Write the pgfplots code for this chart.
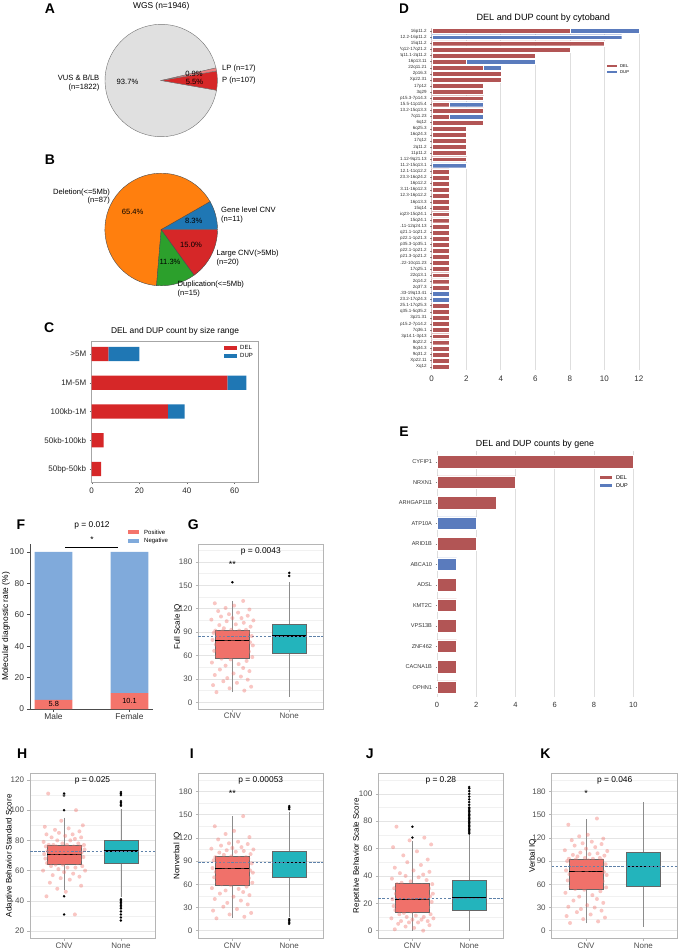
\documentclass[border=0pt]{standalone}
\usepackage{fontspec}
\setmainfont{Liberation Sans}
\usepackage{pgfplots}
\usepackage{pgfplotstable}
\pgfplotsset{compat=1.18}
\usepgfplotslibrary{statistics}

\newcommand\fs[1]{\fontsize{#1bp}{#1bp}\selectfont}

\definecolor{vusgray}{HTML}{E0E0E0}
\definecolor{lppink}{HTML}{EF8080}
\definecolor{tabred}{HTML}{D62728}
\definecolor{tabblue}{HTML}{1F77B4}
\definecolor{taborange}{HTML}{FF7F0E}
\definecolor{tabgreen}{HTML}{2CA02C}
\definecolor{delred}{HTML}{B25555}
\definecolor{dupblue}{HTML}{5A7BBD}
\definecolor{posred}{HTML}{F4746B}
\definecolor{negblue}{HTML}{80AADB}
\definecolor{cnvfill}{HTML}{F0716A}
\definecolor{nonefill}{HTML}{23B4BC}
\definecolor{refline}{HTML}{5F82AA}
\definecolor{panelframe}{HTML}{B5B5B5}
\definecolor{gridmaj}{HTML}{E4E4E4}
\definecolor{gridmin}{HTML}{F1F1F1}
\definecolor{ticktxt}{HTML}{4D4D4D}
\definecolor{sbgrid}{HTML}{DEDEDE}

% CNV counts by size range (DEL / DUP)
\pgfplotstableread{
idx del dup
0 7 13
1 57 8
2 32 7
3 5 0
4 4 0
}\sizerange

% CNV counts by cytoband, top to bottom
\pgfplotstableread{
idx del dup
0 8 4
1 0 11
2 10 0
3 8 0
4 6 0
5 2 4
6 3 1
7 4 0
8 4 0
9 3 0
10 3 0
11 3 0
12 1 2
13 3 0
14 1 2
15 3 0
16 2 0
17 2 0
18 2 0
19 2 0
20 2 0
21 2 0
22 0 2
23 1 0
24 1 0
25 1 0
26 1 0
27 1 0
28 1 0
29 1 0
30 1 0
31 1 0
32 1 0
33 1 0
34 1 0
35 1 0
36 1 0
37 1 0
38 1 0
39 1 0
40 1 0
41 1 0
42 1 0
43 0 1
44 0 1
45 1 0
46 1 0
47 1 0
48 1 0
49 1 0
50 1 0
51 1 0
52 1 0
53 1 0
54 1 0
55 1 0
}\cytoband

% CNV counts by gene
\pgfplotstableread{
idx del dup
0 10 0
1 4 0
2 3 0
3 0 2
4 2 0
5 0 1
6 1 0
7 1 0
8 1 0
9 1 0
10 1 0
11 1 0
}\genecounts

% molecular diagnostic rate by sex (%)
\pgfplotstableread{
idx pos neg
1 5.8 94.2
2 10.1 89.9
}\diagrate

% individual scores of CNV carriers (jittered x position)
\pgfplotstableread{
jx fsiq abs nviq rbs viq
0.72 13 111 16 76 10
1.21 15 100 18 68 12
0.95 18 93 21 66 15
1.33 20 90 23 63 17
0.66 22 89 26 61 19
1.08 25 88 28 58 21
0.84 27 87 31 55 24
1.27 29 86 34 52 26
0.91 31 85 36 50 28
1.15 33 84 39 48 30
0.69 35 84 41 46 31
1.02 37 83 44 44 33
1.30 40 82 46 43 36
0.78 42 82 48 42 39
1.19 44 81 50 41 41
0.88 47 80 52 40 44
1.11 49 80 54 39 46
0.64 51 79 55 38 49
1.25 53 78 57 37 51
0.97 55 78 59 36 53
0.81 56 77 60 35 54
1.35 58 77 62 34 56
0.73 59 77 63 34 57
1.05 61 77 64 33 59
1.17 62 76 66 33 61
0.86 64 76 67 32 62
1.29 65 76 68 31 64
0.68 66 76 69 31 65
0.99 68 75 70 30 66
1.13 69 75 71 30 68
0.76 70 75 72 29 69
1.23 71 74 73 28 70
0.93 72 74 74 28 71
1.36 73 74 75 27 72
0.71 74 73 76 27 73
1.09 75 73 77 26 74
0.83 76 73 78 25 75
1.31 77 72 78 25 76
0.89 78 72 79 24 76
1.01 79 72 80 24 77
0.65 80 71 81 23 78
1.18 81 71 82 23 79
0.96 82 71 83 23 80
1.26 82 71 84 22 81
0.79 83 70 85 22 82
1.07 84 70 86 22 84
0.87 85 70 87 21 85
1.34 85 69 87 21 86
0.74 86 69 88 20 87
1.14 87 69 89 20 88
0.92 88 68 90 19 89
1.22 88 68 90 19 89
0.67 89 68 91 18 90
1.04 90 67 92 18 91
1.28 90 67 93 17 91
0.82 91 66 93 17 92
1.12 92 66 94 16 93
0.70 92 65 95 15 93
1.24 93 65 95 15 94
0.98 93 64 96 14 94
0.85 95 64 98 13 96
1.32 97 63 99 12 97
0.77 99 63 101 12 98
1.06 100 62 102 11 99
1.20 102 62 103 10 100
0.90 104 61 104 10 101
1.37 105 60 105 9 103
0.63 106 60 106 9 104
1.00 108 59 107 8 106
1.16 108 58 108 8 108
0.80 110 57 110 7 110
1.27 111 56 112 7 112
0.94 113 55 113 6 113
1.10 115 54 115 6 115
0.75 117 52 118 5 117
1.30 119 50 121 4 119
0.88 121 48 125 3 122
1.03 124 46 129 2 124
0.69 127 43 135 1 137
1.19 130 31 148 0 145
}\cnvscores

\pgfplotsset{
  sbbars/.style={
    scale only axis, xbar stacked, y dir=reverse,
    axis line style={draw=none},
    xmajorgrids, major grid style={sbgrid, line width=0.6bp},
    tick label style={text=black!80},
    /pgf/number format/assume math mode=true,
    xtick style={draw=none},
    ytick style={draw=black!50, line width=0.3bp},
    ytick pos=left,
    major tick length=1.5bp, tick align=outside,
  },
  iqpanel/.style={
    scale only axis, width=125bp, height=165bp,
    xmin=0.4, xmax=2.6, xtick={1,2}, xticklabels={CNV,None},
    axis line style={panelframe, line width=0.8bp},
    tick style={panelframe, line width=0.5bp},
    tick align=outside, major tick length=2.5bp, minor tick length=0pt,
    xtick pos=bottom, ytick pos=left,
    ymajorgrids, yminorgrids,
    major grid style={gridmaj, line width=0.6bp},
    minor grid style={gridmin, line width=0.4bp},
    tick label style={font=\fs{8}, text=ticktxt},
    xticklabel style={yshift=1.8bp},
    /pgf/number format/assume math mode=true,
    boxplot/draw direction=y,
    clip=false,
  },
  cnvbox/.style={fill=cnvfill, draw=black!60, line width=0.5bp,
    boxplot/every median/.style={black, line width=1.2bp},
    boxplot/every whisker/.style={black!45, line width=0.5bp}},
  nonebox/.style={fill=nonefill, draw=black!60, line width=0.5bp,
    boxplot/every median/.style={black, line width=1.2bp},
    boxplot/every whisker/.style={black!45, line width=0.5bp}},
  cnvdots/.style={only marks, mark=*, mark size=2bp, color=cnvfill,
    mark options={solid, fill=cnvfill, draw=cnvfill, draw opacity=0, fill opacity=0.4}},
  outdots/.style={only marks, mark=*, mark size=1.2bp, color=black,
    mark options={solid, fill=black, draw=black, line width=0.1bp}},
  refl/.style={refline, line width=0.6bp, dash pattern=on 2.5bp off 1.6bp},
}

\begin{document}
\begin{tikzpicture}
\useasboundingbox (0,0) rectangle (680bp,-948bp);

% ---------- A: WGS pie ----------
\pgfmathsetmacro\wgsTot{1822+17+107}
\pgfmathsetmacro\aP{-10}
\pgfmathsetmacro\aLP{\aP+107/\wgsTot*360}
\pgfmathsetmacro\aVUS{\aLP+17/\wgsTot*360}
\pgfmathsetmacro\aEnd{\aP+360}
\begin{axis}[at={(161.2bp,-80.5bp)}, anchor=center, x=56.2bp, y=56.2bp,
  hide axis, xmin=-1, xmax=1, ymin=-1, ymax=1, clip=false]
  \fill[vusgray, draw=black!55, line width=0.4bp] (axis cs:0,0) -- ++(\aVUS:56.2bp)
    arc[start angle=\aVUS, end angle=\aEnd, radius=56.2bp] -- cycle;
  \fill[tabred, draw=black!55, line width=0.4bp] (axis cs:0,0) -- ++(\aP:56.2bp)
    arc[start angle=\aP, end angle=\aLP, radius=56.2bp] -- cycle;
  \fill[lppink, draw=black!55, line width=0.4bp] (axis cs:0,0) -- ++(\aLP:56.2bp)
    arc[start angle=\aLP, end angle=\aVUS, radius=56.2bp] -- cycle;
\end{axis}
\node[font=\fs{8.4}] at (161.2bp,-6bp) {WGS (n=1946)};
\node[font=\fs{7.6}] at (127.5bp,-81.5bp) {93.7\%};
\node[font=\fs{7.6}] at (194.5bp,-81.5bp) {5.5\%};
\node[font=\fs{7.6}] at (194bp,-74bp) {0.9\%};
\node[font=\fs{7.6}, anchor=west, inner sep=0pt] at (222bp,-69bp) {LP (n=17)};
\node[font=\fs{7.6}, anchor=west, inner sep=0pt] at (222bp,-81bp) {P (n=107)};
\node[font=\fontsize{7.6bp}{8.6bp}\selectfont, anchor=east, align=right, inner sep=0pt]
  at (99.5bp,-83bp) {VUS \& B/LB\\(n=1822)};

% ---------- B: CNV type pie ----------
\pgfmathsetmacro\cnvTot{11+87+15+20}
\pgfmathsetmacro\bDel{11/\cnvTot*360}
\pgfmathsetmacro\bDup{\bDel+87/\cnvTot*360}
\pgfmathsetmacro\bLarge{\bDup+15/\cnvTot*360}
\begin{axis}[at={(161.2bp,-229.5bp)}, anchor=center, x=56.3bp, y=56.3bp,
  hide axis, xmin=-1, xmax=1, ymin=-1, ymax=1, clip=false]
  \fill[tabblue, draw=black!70, line width=0.4bp] (axis cs:0,0) -- ++(0:56.3bp)
    arc[start angle=0, end angle=\bDel, radius=56.3bp] -- cycle;
  \fill[taborange, draw=black!70, line width=0.4bp] (axis cs:0,0) -- ++(\bDel:56.3bp)
    arc[start angle=\bDel, end angle=\bDup, radius=56.3bp] -- cycle;
  \fill[tabgreen, draw=black!70, line width=0.4bp] (axis cs:0,0) -- ++(\bDup:56.3bp)
    arc[start angle=\bDup, end angle=\bLarge, radius=56.3bp] -- cycle;
  \fill[tabred, draw=black!70, line width=0.4bp] (axis cs:0,0) -- ++(\bLarge:56.3bp)
    arc[start angle=\bLarge, end angle=360, radius=56.3bp] -- cycle;
\end{axis}
\node[font=\fs{7.6}] at (132.6bp,-211.4bp) {65.4\%};
\node[font=\fs{7.6}] at (193.8bp,-220.8bp) {8.3\%};
\node[font=\fs{7.6}] at (170bp,-262bp) {11.3\%};
\node[font=\fs{7.6}] at (191bp,-245bp) {15.0\%};
\node[font=\fontsize{7.6bp}{8.6bp}\selectfont, anchor=east, align=right, inner sep=0pt]
  at (110bp,-196.5bp) {Deletion(<=5Mb)\\(n=87)};
\node[font=\fontsize{7.6bp}{8.6bp}\selectfont, anchor=west, align=left, inner sep=0pt]
  at (221bp,-214.8bp) {Gene level CNV\\(n=11)};
\node[font=\fontsize{7.6bp}{8.6bp}\selectfont, anchor=west, align=left, inner sep=0pt]
  at (216.5bp,-258bp) {Large CNV(>5Mb)\\(n=20)};
\node[font=\fontsize{7.6bp}{8.6bp}\selectfont, anchor=west, align=left, inner sep=0pt]
  at (177.5bp,-289.3bp) {Duplication(<=5Mb)\\(n=15)};

% ---------- C: size range ----------
\begin{axis}[scale only axis, at={(91.7bp,-482bp)}, anchor=south west,
  width=166.6bp, height=140.3bp, xbar stacked, bar width=14.3bp, y dir=reverse,
  xmin=0, xmax=70, ymin=-0.43, ymax=4.45,
  ytick={0,...,4}, yticklabels={>5M,1M-5M,100kb-1M,50kb-100kb,50bp-50kb},
  xtick={0,20,40,60},
  axis line style={black!35, line width=0.6bp},
  tick style={black!60, line width=0.4bp}, tick align=outside, major tick length=2bp,
  xtick pos=bottom, ytick pos=left,
  tick label style={font=\fs{8}, text=black!85},
  /pgf/number format/assume math mode=true]
  \addplot[fill=tabred, draw=none] table[x=del, y=idx] {\sizerange};
  \addplot[fill=tabblue, draw=none] table[x=dup, y=idx] {\sizerange};
\end{axis}
\node[font=\fs{8.4}] at (175bp,-331.7bp) {DEL and DUP count by size range};
\fill[tabred] (224.3bp,-345.6bp) rectangle (236.7bp,-349.8bp);
\fill[tabblue] (224.3bp,-353.6bp) rectangle (236.7bp,-357.8bp);
\node[font=\fs{6}, anchor=west, inner sep=0pt] at (240bp,-347.7bp) {DEL};
\node[font=\fs{6}, anchor=west, inner sep=0pt] at (240bp,-355.7bp) {DUP};

% ---------- D: cytoband ----------
\begin{scope}
\clip (400bp,0bp) rectangle (680bp,-400bp);
\begin{axis}[sbbars, at={(431.7bp,-369.7bp)}, anchor=south west,
  width=217.6bp, height=341.7bp, bar width=4.9bp,
  xmin=0, xmax=12.6, ymin=-0.5, ymax=55.5,
  xtick={0,2,...,12}, ytick={0,...,55},
  yticklabels={16p11.2, 16p12.2-16p11.2, 15q11.2, 17q12-17q21.2, 2q11.1-2q11.2,
    16p13.11, 22q11.21, 2p16.3, Xp22.31, 17p12, 3q29, 7p15.3-7p14.3,
    11p15.5-11p15.4, 15q13.2-15q13.3, 7q11.23, 6q12, 6q25.3, 16q24.3, 17q12,
    2q11.2, 11p11.2, 9q21.12-9q21.13, 15q11.2-15q13.1, 11q12.1-11q12.2,
    16q23.3-16q24.2, 16p12.2, 16p13.11-16p12.3, 16p12.3-16p12.2, 16p13.3, 15q14,
    15q23-15q24.1, 15q24.1, 12q24.11-12q24.13, 1q21.1-1q21.2, 1p22.1-1p21.3,
    1p35.3-1p35.1, 1p22.1-1p21.2, 1p21.3-1p21.2, 10q11.22-10q11.23, 17q25.1,
    22q13.1, 2q14.2, 2q37.3, 19q13.33-19q13.41, 17q23.2-17q24.3,
    17q25.1-17q25.3, 5q35.1-5q35.2, 3p21.31, 7p15.2-7p14.2, 7q36.1,
    3p14.1-3p13, 8q22.2, 9q34.3, 9q31.2, Xp22.11, Xq12},
  yticklabel style={font=\fs{4.5}},
  xticklabel style={font=\fs{8}, yshift=-1bp}]
  \addplot[fill=delred, draw=white, line width=0.3bp] table[x=del, y=idx] {\cytoband};
  \addplot[fill=dupblue, draw=white, line width=0.3bp] table[x=dup, y=idx] {\cytoband};
\end{axis}
\node[font=\bfseries\fs{14}] at (404bp,-8.5bp) {D};
\end{scope}
\node[font=\fs{9.1}] at (543.3bp,-18.3bp) {DEL and DUP count by cytoband};
\fill[delred] (607bp,-64.8bp) rectangle (617bp,-67.3bp);
\fill[dupblue] (607bp,-70.5bp) rectangle (617bp,-73bp);
\node[font=\fs{4.2}, anchor=west, inner sep=0pt] at (620bp,-66bp) {DEL};
\node[font=\fs{4.2}, anchor=west, inner sep=0pt] at (620bp,-71.7bp) {DUP};

% ---------- E: genes ----------
\begin{axis}[sbbars, at={(437bp,-697.45bp)}, anchor=south west,
  width=206.1bp, height=246bp, bar width=12.7bp,
  xmin=0, xmax=10.5, ymin=-0.5, ymax=11.5,
  xtick={0,2,...,10}, ytick={0,...,11},
  yticklabels={CYFIP1,NRXN1,ARHGAP11B,ATP10A,ARID1B,ABCA10,ADSL,KMT2C,VPS13B,ZNF462,CACNA1B,OPHN1},
  yticklabel style={font=\fs{5.6}},
  xticklabel style={font=\fs{7.5}}]
  \addplot[fill=delred, draw=white, line width=0.3bp] table[x=del, y=idx] {\genecounts};
  \addplot[fill=dupblue, draw=white, line width=0.3bp] table[x=dup, y=idx] {\genecounts};
\end{axis}
\node[font=\fs{8.85}] at (535bp,-444bp) {DEL and DUP counts by gene};
\fill[delred] (600bp,-475.5bp) rectangle (612.3bp,-479.1bp);
\fill[dupblue] (600bp,-483.5bp) rectangle (612.3bp,-487.1bp);
\node[font=\fs{5.5}, anchor=west, inner sep=0pt] at (616bp,-477.3bp) {DEL};
\node[font=\fs{5.5}, anchor=west, inner sep=0pt] at (616bp,-485.3bp) {DUP};

% ---------- F: diagnostic rate by sex ----------
\begin{axis}[scale only axis, at={(30bp,-709bp)}, anchor=south west,
  width=123bp, height=165bp, ybar stacked, bar width=37.7bp,
  xmin=0.69, xmax=2.31, ymin=0, ymax=105,
  xtick={1,2}, xticklabels={Male,Female}, ytick={0,20,...,100},
  axis x line*=bottom, axis y line*=left,
  axis line style={black!70, line width=0.6bp},
  tick style={black!70, line width=0.5bp}, tick align=outside, major tick length=2.5bp,
  tick label style={font=\fs{8.4}, text=black!80},
  xticklabel style={yshift=1.5bp},
  /pgf/number format/assume math mode=true, clip=false]
  \addplot[fill=posred, draw=none] table[x=idx, y=pos] {\diagrate};
  \addplot[fill=negblue, draw=none] table[x=idx, y=neg] {\diagrate};
\end{axis}
\node[font=\fs{7.4}] at (53.8bp,-704.3bp) {5.8};
\node[font=\fs{7.4}] at (129.5bp,-701bp) {10.1};
\node[font=\fs{8.4}] at (92bp,-525.7bp) {p = 0.012};
\node[font=\fs{8.4}] at (92bp,-540bp) {*};
\draw[black, line width=0.6bp] (65bp,-547bp) -- (118bp,-547bp);
\fill[posred] (127.7bp,-529.8bp) rectangle (139.3bp,-534.2bp);
\fill[negblue] (127.7bp,-538.5bp) rectangle (139.3bp,-542.9bp);
\node[font=\fs{6}, anchor=west, inner sep=0pt] at (144bp,-532bp) {Positive};
\node[font=\fs{6}, anchor=west, inner sep=0pt] at (144bp,-540.7bp) {Negative};
\node[font=\fs{8.4}, rotate=90] at (6bp,-626.5bp) {Molecular diagnostic rate (\%)};

% ---------- G: Full Scale IQ ----------
\begin{axis}[iqpanel, at={(198.3bp,-709bp)}, anchor=south west,
  ymin=-8.6, ymax=203, ytick={0,30,...,180}, minor ytick={15,45,...,195}]
  \addplot[cnvbox, boxplot prepared={draw position=1, median=79, lower quartile=56,
    upper quartile=93, lower whisker=13, upper whisker=130, box extend=0.6, whisker extend=0}] coordinates {};
  \addplot[nonebox, boxplot prepared={draw position=2, median=85, lower quartile=63,
    upper quartile=100.5, lower whisker=7, upper whisker=154, box extend=0.6, whisker extend=0}] coordinates {};
  \addplot[refl] coordinates {(0.4,85) (2.6,85)};
  \addplot[cnvdots] table[x=jx, y=fsiq] {\cnvscores};
  \addplot[outdots] coordinates {(1,154) (2,162) (2,166)};
  \node[font=\fs{8.4}] at (rel axis cs:0.5,0.955) {p = 0.0043};
  \node[font=\fs{9}] at (axis cs:1,177) {**};
\end{axis}
\node[font=\fs{8}, rotate=90] at (177.7bp,-626.7bp) {Full Scale IQ};

% ---------- H: Adaptive behavior ----------
\begin{axis}[iqpanel, at={(30bp,-938.3bp)}, anchor=south west,
  ymin=15.2, ymax=124.4, ytick={20,40,...,120}, minor ytick={30,50,...,110}]
  \addplot[cnvbox, boxplot prepared={draw position=1, median=70.8, lower quartile=64.2,
    upper quartile=77, lower whisker=47, upper whisker=95, box extend=0.6, whisker extend=0}] coordinates {};
  \addplot[nonebox, boxplot prepared={draw position=2, median=73, lower quartile=64.8,
    upper quartile=80, lower whisker=42.5, upper whisker=101, box extend=0.6, whisker extend=0}] coordinates {};
  \addplot[refl] coordinates {(0.4,72.7) (2.6,72.7)};
  \addplot[cnvdots] table[x=jx, y=abs] {\cnvscores};
  \addplot[outdots] coordinates {(1,111) (1,100) (1,43) (1,31)
    (2,103) (2,104) (2,105) (2,106) (2,110) (2,111) (2,112)
    (2,41) (2,40) (2,39) (2,38) (2,37) (2,36) (2,35) (2,33) (2,31) (2,29) (2,27)};
  \node[font=\fs{8.4}] at (rel axis cs:0.5,0.957) {p = 0.025};
  \node[font=\fs{9}] at (axis cs:1,108.5) {*};
\end{axis}
\node[font=\fs{8}, rotate=90] at (9.5bp,-855.8bp) {Adaptive Behavior Standard Score};

% ---------- I: Nonverbal IQ ----------
\begin{axis}[iqpanel, at={(198.3bp,-938.3bp)}, anchor=south west,
  ymin=-9.8, ymax=203.4, ytick={0,30,...,180}, minor ytick={15,45,...,195}]
  \addplot[cnvbox, boxplot prepared={draw position=1, median=80, lower quartile=59,
    upper quartile=96, lower whisker=16, upper whisker=148, box extend=0.6, whisker extend=0}] coordinates {};
  \addplot[nonebox, boxplot prepared={draw position=2, median=88.6, lower quartile=69,
    upper quartile=102.5, lower whisker=18, upper whisker=154, box extend=0.6, whisker extend=0}] coordinates {};
  \addplot[refl] coordinates {(0.4,88.8) (2.6,88.8)};
  \addplot[cnvdots] table[x=jx, y=nviq] {\cnvscores};
  \addplot[outdots] coordinates {(2,157) (2,159) (2,161) (2,15) (2,13) (2,11) (2,9)};
  \node[font=\fs{8.4}] at (rel axis cs:0.5,0.957) {p = 0.00053};
  \node[font=\fs{9}] at (axis cs:1,177) {**};
\end{axis}
\node[font=\fs{8}, rotate=90] at (177.3bp,-855.8bp) {Nonverbal IQ};

% ---------- J: Repetitive behavior ----------
\begin{axis}[iqpanel, at={(378.3bp,-938.3bp)}, anchor=south west,
  ymin=-5.6, ymax=115, ytick={0,20,...,100}, minor ytick={10,30,...,110}]
  \addplot[cnvbox, boxplot prepared={draw position=1, median=23, lower quartile=13.7,
    upper quartile=35, lower whisker=0, upper whisker=65.6, box extend=0.6, whisker extend=0}] coordinates {};
  \addplot[nonebox, boxplot prepared={draw position=2, median=24, lower quartile=15,
    upper quartile=36.6, lower whisker=0, upper whisker=70.5, box extend=0.6, whisker extend=0}] coordinates {};
  \addplot[refl] coordinates {(0.4,24) (2.6,24)};
  \addplot[cnvdots] table[x=jx, y=rbs] {\cnvscores};
  \addplot[outdots] coordinates {(1,68) (1,76)
    (2,71) (2,72) (2,73) (2,74) (2,75) (2,76) (2,77) (2,78) (2,79) (2,80)
    (2,81) (2,82) (2,83) (2,84) (2,85) (2,86) (2,87) (2,88) (2,89) (2,90)
    (2,92) (2,94) (2,96) (2,98) (2,100) (2,102) (2,104) (2,105)};
  \node[font=\fs{8.4}] at (rel axis cs:0.5,0.957) {p = 0.28};
\end{axis}
\node[font=\fs{8}, rotate=90] at (356.7bp,-855.8bp) {Repetitive Behavior Scale Score};

% ---------- K: Verbal IQ ----------
\begin{axis}[iqpanel, at={(551.7bp,-938.3bp)}, anchor=south west, width=126bp,
  ymin=-9.8, ymax=203.4, ytick={0,30,...,180}, minor ytick={15,45,...,195}]
  \addplot[cnvbox, boxplot prepared={draw position=1, median=77, lower quartile=53.5,
    upper quartile=93, lower whisker=9.5, upper whisker=144, box extend=0.6, whisker extend=0}] coordinates {};
  \addplot[nonebox, boxplot prepared={draw position=2, median=82.7, lower quartile=57,
    upper quartile=101, lower whisker=5, upper whisker=166, box extend=0.6, whisker extend=0}] coordinates {};
  \addplot[refl] coordinates {(0.4,83) (2.6,83)};
  \addplot[cnvdots] table[x=jx, y=viq] {\cnvscores};
  \node[font=\fs{8.4}] at (rel axis cs:0.5,0.957) {p = 0.046};
  \node[font=\fs{9}] at (axis cs:1,177) {*};
\end{axis}
\node[font=\fs{8}, rotate=90] at (532.7bp,-855.8bp) {Verbal IQ};

% ---------- panel letters ----------
\foreach \lab/\px/\py in {A/50/8.7, B/50/160, C/49.3/328, E/404/431.7, F/20.8/525,
  G/193.3/525, H/22.3/753.3, I/191.7/753.3, J/369.7/753.3, K/545.3/753.3}
  \node[font=\bfseries\fs{14}] at (\px bp,-\py bp) {\lab};
\end{tikzpicture}
\end{document}
